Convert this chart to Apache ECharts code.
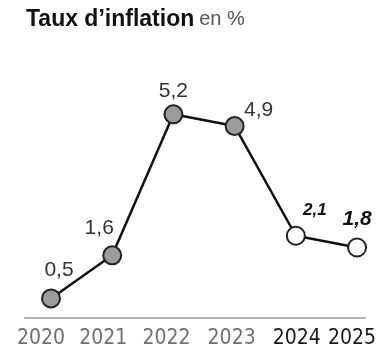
<!DOCTYPE html>
<html>
<head>
<meta charset="utf-8">
<script src="https://cdn.jsdelivr.net/npm/echarts@6/dist/echarts.min.js"></script>
<style>
  html, body { margin: 0; padding: 0; background: #fff; }
  #chart { width: 387px; height: 352px; }
</style>
</head>
<body>
<div id="chart"></div>
<script>
// Inflation rate, in percent, by year (2024 and 2025 are forecasts)
var years = [2020, 2021, 2022, 2023, 2024, 2025];
var inflation = [0.5, 1.6, 5.2, 4.9, 2.1, 1.8];
var valueLabels = ['0,5', '1,6', '5,2', '4,9', '2,1', '1,8'];
var forecastYears = [2024, 2025];

// label placement around each marker (x, y offsets from the marker centre)
var labelOffsets = [[8, -28], [-13, -27], [0, -23], [24, -16], [19, -25], [0, -28]];
// horizontal nudge of each year label under its point
var yearLabelShift = [-10, -9, -7, -3, 1, -5];

var chart = echarts.init(document.getElementById('chart'), null, { renderer: 'canvas' });

var seriesData = years.map(function (y, i) {
  var forecast = forecastYears.indexOf(y) >= 0;
  return {
    value: [y, inflation[i]],
    itemStyle: { color: forecast ? '#ffffff' : '#9c9c9c' },
    label: {
      formatter: valueLabels[i],
      offset: labelOffsets[i],
      fontStyle: forecast ? 'italic' : 'normal',
      fontWeight: forecast ? 'bold' : 'normal',
      fontSize: y === 2024 ? 17 : 21,
      color: forecast ? '#111' : '#333'
    }
  };
});

// one rich style per year label so each can carry its own nudge
var yearRich = {};
years.forEach(function (y, i) {
  var s = yearLabelShift[i];
  yearRich['y' + y] = {
    fontFamily: 'DejaVu Sans Condensed',
    fontSize: 21,
    color: forecastYears.indexOf(y) >= 0 ? '#1a1a1a' : '#707070',
    padding: s < 0 ? [0, -2 * s, 0, 0] : [0, 0, 0, 2 * s]
  };
});

chart.setOption({
  animation: false,
  backgroundColor: '#ffffff',
  title: {
    left: 21,
    top: 3,
    text: '{a|Taux d\u2019inflation} {b|en %}',
    textStyle: {
      rich: {
        a: { fontFamily: 'Liberation Sans', fontWeight: 900, fontSize: 23, color: '#111' },
        b: { fontFamily: 'Liberation Sans', fontWeight: 'normal', fontSize: 20, color: '#555' }
      }
    }
  },
  grid: { left: 25, right: 22, top: 83, bottom: 34 },
  xAxis: {
    type: 'value',
    min: 2019.575,
    max: 2025.13,
    splitLine: { show: false },
    axisLine: { show: true, lineStyle: { color: '#b0b0b0', width: 2 } },
    axisTick: { show: false },
    axisLabel: {
      customValues: years,
      margin: 10,
      formatter: function (v) {
        return '{y' + v + '|' + v + '}';
      },
      rich: yearRich
    }
  },
  yAxis: {
    type: 'value',
    min: 0,
    max: 6,
    show: false
  },
  series: [{
    type: 'line',
    data: seriesData,
    symbol: 'circle',
    symbolSize: 18,
    lineStyle: { color: '#111', width: 2.5 },
    itemStyle: { borderColor: '#222', borderWidth: 2 },
    label: {
      show: true,
      position: 'inside',
      fontFamily: 'Liberation Sans'
    },
    z: 3
  }]
});
</script>
</body>
</html>
